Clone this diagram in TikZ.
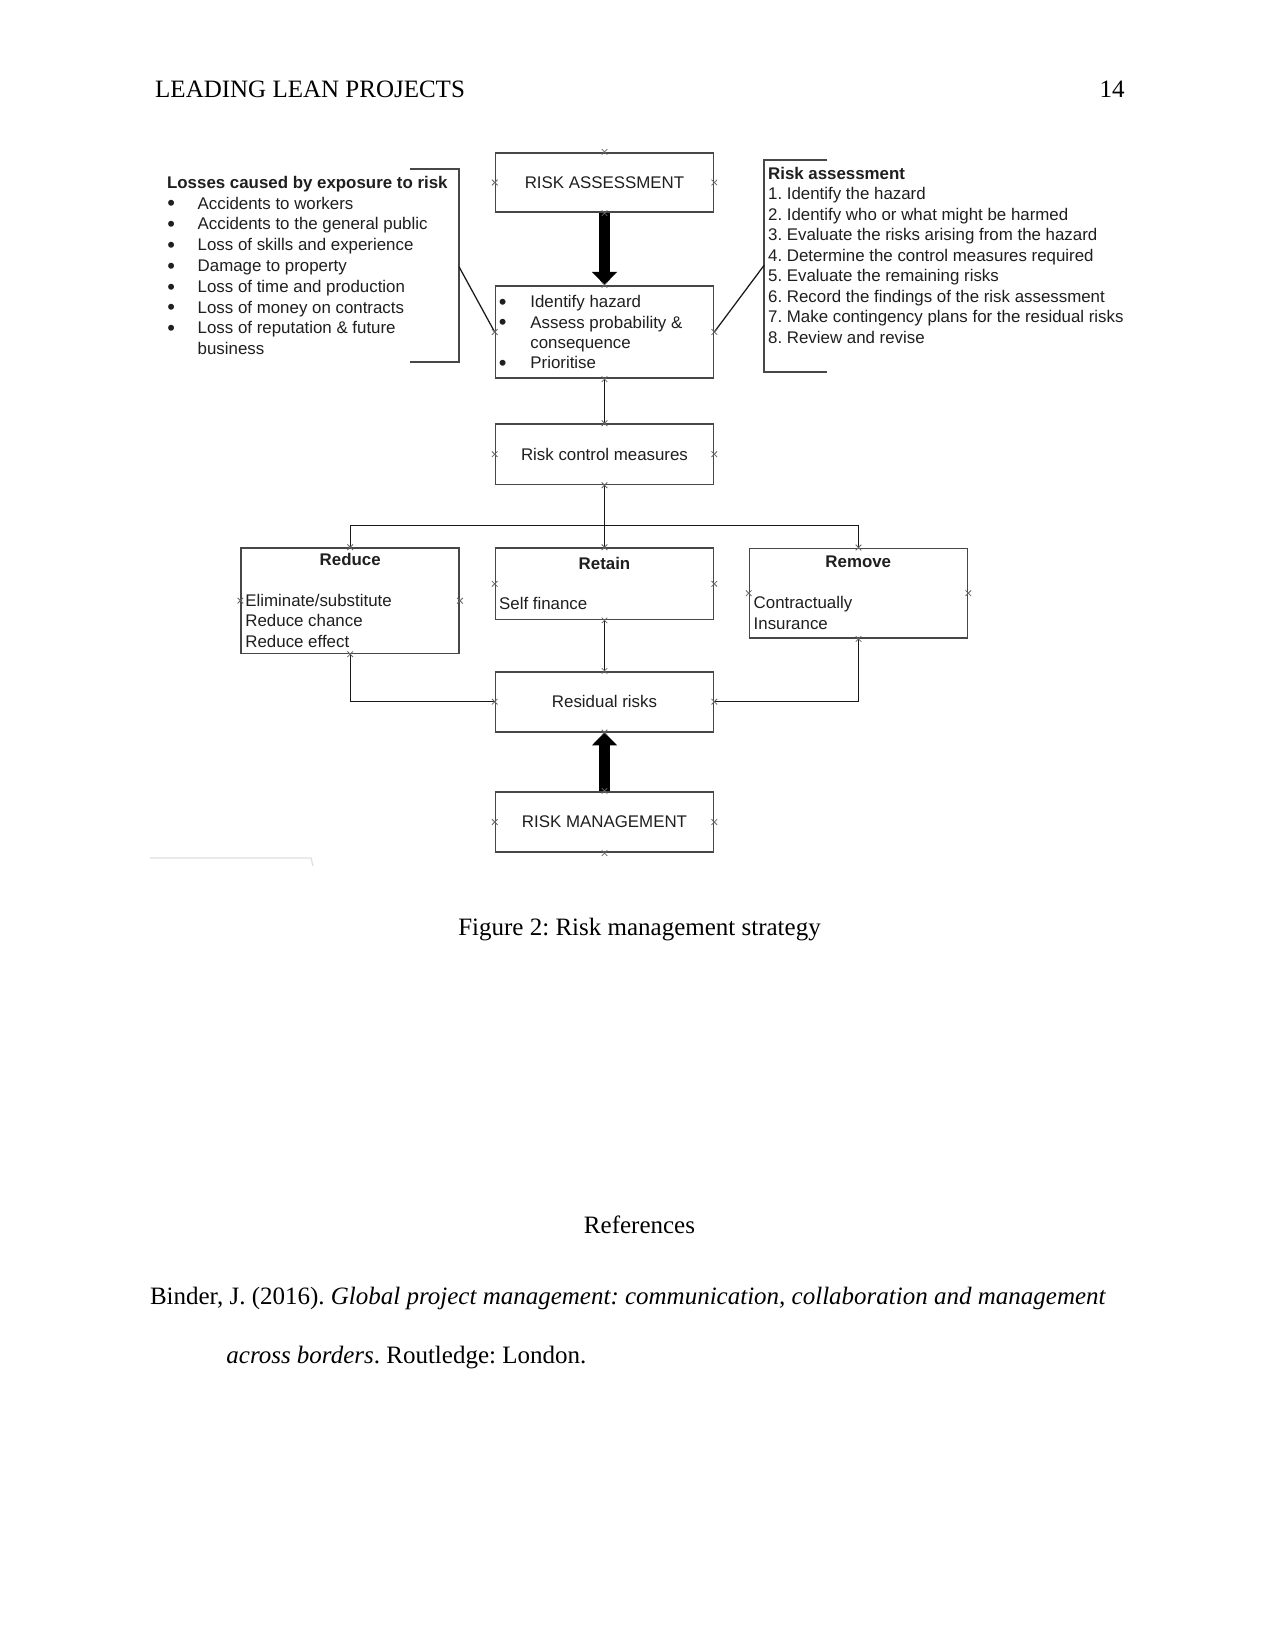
\documentclass[tikz,border=0pt]{standalone}
\usepackage{fontspec}
\setmainfont{Liberation Serif}
\newfontfamily\arialf{Liberation Sans}
\usetikzlibrary{arrows.meta}
\frenchspacing
\newcommand{\cpx}[1]{\draw[cross] (#1) +(-2.8,-2.8) -- +(2.8,2.8) +(-2.8,2.8) -- +(2.8,-2.8);}
\newcommand{\bigbul}{\raisebox{-0.9pt}{\fontsize{10.5}{10.5}\selectfont\textbullet}}
\begin{document}
\begin{tikzpicture}[x=0.48pt,y=-0.48pt,
  box/.style={draw=black!72, line width=0.8pt, inner sep=0pt, font=\arialf\fontsize{8.1}{9.9}\selectfont, text=black!88},
  lbl/.style={font=\arialf\fontsize{8.1}{9.9}\selectfont, inner sep=0pt, text=black!88},
  blbl/.style={lbl, font=\arialf\bfseries\fontsize{8.1}{9.9}\selectfont},
  conn/.style={draw=black!90, line width=0.6pt},
  brk/.style={draw=black!72, line width=0.8pt},
  bigarrow/.style={line width=5.2pt, black, -{Triangle[length=6.2pt,width=11.8pt]}},
  cross/.style={draw=black!60, line width=0.4pt},
  page/.style={inner sep=0pt, font=\fontsize{12}{14}\selectfont}
]
\useasboundingbox[fill=white] (0,0) rectangle (1275,1651);

% page text
\node[page, anchor=base west] (hdr) at (154.8,97.3) {LEADING LEAN PROJECTS};
\node[page, anchor=base east] (pno) at (1125,97.3) {14};
\node[page, anchor=base] (cap) at (639.5,935) {Figure 2: Risk management strategy};
\node[page, anchor=base] (refs) at (639.5,1233) {References};
\node[page, anchor=base west] (ref1) at (149.6,1304) {Binder, J. (2016). \textit{Global project management: communication, collaboration and management}};
\node[page, anchor=base west] (ref2) at (226,1363) {\textit{across borders}. Routledge: London.};

% boxes
\node[box, minimum width={218*0.48pt}, minimum height={59.6*0.48pt}] (ra) at (604.5,182.5) {RISK ASSESSMENT};
\node[box, minimum width={218*0.48pt}, minimum height={92.6*0.48pt}] (ih) at (604.5,332) {};
\node[box, minimum width={218*0.48pt}, minimum height={60.3*0.48pt}] (rc) at (604.5,454.2) {Risk control measures};
\node[box, minimum width={218*0.48pt}, minimum height={105.3*0.48pt}] (rd) at (350.2,600.7) {};
\node[box, minimum width={218*0.48pt}, minimum height={71.5*0.48pt}] (rt) at (604.5,583.8) {};
\node[box, minimum width={218*0.48pt}, minimum height={89.7*0.48pt}] (rm) at (858.5,593.2) {};
\node[box, minimum width={218*0.48pt}, minimum height={60*0.48pt}] (rr) at (604.5,701.7) {Residual risks};
\node[box, minimum width={218*0.48pt}, minimum height={60.6*0.48pt}] (mg) at (604.5,822) {RISK MANAGEMENT};

% identify box text
\foreach \t/\b [count=\k from 0] in {Identify hazard/1,Assess probability \&/1,consequence/0,Prioritise/1}{
  \ifnum\b=1 \node[lbl, anchor=base west] (ihb\k) at (498.5,307.7+20.3*\k) {\bigbul};\fi
  \node[lbl, anchor=base west] (iht\k) at (530,307.7+20.3*\k) {\t};
}

% reduce / retain / remove texts
\node[blbl, anchor=base] (rdt) at (350.2,565.3) {Reduce};
\node[lbl, anchor=base west] (rd1) at (245,606) {Eliminate/substitute};
\node[lbl, anchor=base west] (rd2) at (245,626.7) {Reduce chance};
\node[lbl, anchor=base west] (rd3) at (245,647.3) {Reduce effect};
\node[blbl, anchor=base] (rtt) at (604.5,569.3) {Retain};
\node[lbl, anchor=base west] (rt1) at (498.7,609.3) {Self finance};
\node[blbl, anchor=base] (rmt) at (858.3,567.7) {Remove};
\node[lbl, anchor=base west] (rm1) at (753.3,608.7) {Contractually};
\node[lbl, anchor=base west] (rm2) at (753.3,629.3) {Insurance};

% left list
\node[blbl, anchor=base west] (lt) at (166.7,188.3) {Losses caused by exposure to risk};
\foreach \t [count=\k] in {Accidents to workers,Accidents to the general public,Loss of skills and experience,Damage to property,Loss of time and production,Loss of money on contracts,Loss of reputation \& future}{
  \node[lbl, anchor=base west] (lb\k) at (167,188.3+20.8*\k) {\bigbul};
  \node[lbl, anchor=base west] (ll\k) at (197.3,188.3+20.8*\k) {\t};
}
\node[lbl, anchor=base west] (ll8) at (197.3,188.3+20.8*8) {business};

% right list
\node[blbl, anchor=base west] (rtl) at (767.7,179.3) {Risk assessment};
\foreach \t [count=\k] in {1. Identify the hazard,2. Identify who or what might be harmed,3. Evaluate the risks arising from the hazard,4. Determine the control measures required,5. Evaluate the remaining risks,6. Record the findings of the risk assessment,7. Make contingency plans for the residual risks,8. Review and revise}{
  \node[lbl, anchor=base west] (rl\k) at (767.7,179.3+20.5*\k) {\t};
}

% brackets
\coordinate (lb) at (459,266.7);
\coordinate (rb) at (764.3,265);
\draw[brk] (410,169) -- (459,169) -- (459,362.3) -- (410,362.3);
\draw[brk] (827.3,160) -- (764.3,160) -- (764.3,371.7) -- (827.3,371.7);
\draw[conn] (lb) -- (ih.west);
\draw[conn] (rb) -- (ih.east);

% connectors
\draw[bigarrow] (ra.south) -- (ih.north);
\draw[bigarrow] (mg.north) -- (rr.south);
\draw[conn] (ih.south) -- (rc.north);
\draw[conn] (rc.south) -- (rt.north);
\coordinate (bj) at (604.5,525.3);
\draw[conn] (rd.north) |- (bj) -| (rm.north);
\draw[conn] (rt.south) -- (rr.north);
\draw[conn] (rd.south) |- (rr.west);
\draw[conn] (rm.south) |- (rr.east);

% connection point crosses
\foreach \n in {ra,ih,rc,rd,rt,rm,rr,mg}{
  \cpx{\n.north}\cpx{\n.south}\cpx{\n.west}\cpx{\n.east}
}

% faint artifact
\draw[black!12, line width=0.6pt] (150,858) -- (311,858) -- (313,866);
\end{tikzpicture}
\end{document}
